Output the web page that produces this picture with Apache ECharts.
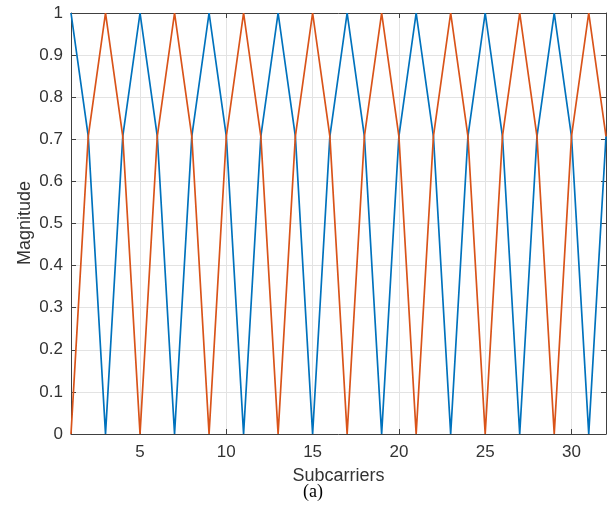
<!DOCTYPE html>
<html>
<head>
<meta charset="utf-8">
<script src="https://cdn.jsdelivr.net/npm/echarts@6/dist/echarts.min.js"></script>
<style>
html,body{margin:0;padding:0;background:#fff;}
#chart{width:614px;height:513px;}
</style>
</head>
<body>
<div id="chart"></div>
<script>
// Subcarrier indices 1..32
const subcarriers = [1,2,3,4,5,6,7,8,9,10,11,12,13,14,15,16,17,18,19,20,21,22,23,24,25,26,27,28,29,30,31,32];
// Magnitude of the two interleaved carriers at each subcarrier
const blueMag = [1,0.7071,0,0.7071,1,0.7071,0,0.7071,1,0.7071,0,0.7071,1,0.7071,0,0.7071,
                 1,0.7071,0,0.7071,1,0.7071,0,0.7071,1,0.7071,0,0.7071,1,0.7071,0,0.7071];
const orangeMag = [0,0.7071,1,0.7071,0,0.7071,1,0.7071,0,0.7071,1,0.7071,0,0.7071,1,0.7071,
                   0,0.7071,1,0.7071,0,0.7071,1,0.7071,0,0.7071,1,0.7071,0,0.7071,1,0.7071];
const xTicks = [5,10,15,20,25,30];

const axisColor = '#404040';
const textColor = '#333333';
const gridColor = '#e3e3e3';
const font = 'Liberation Sans, Arial, Helvetica, sans-serif';

const chart = echarts.init(document.getElementById('chart'));
const pairs = (ys) => subcarriers.map((x, i) => [x, ys[i]]);

const xBase = {
  type: 'value', min: 1, max: 32,
  axisLine: {show: true, onZero: false, lineStyle: {color: axisColor, width: 1}},
  axisTick: {show: true, inside: true, length: 5, customValues: xTicks, lineStyle: {color: axisColor}},
  axisLabel: {customValues: xTicks, color: textColor, fontSize: 17, fontFamily: font, margin: 10},
  splitLine: {show: false}
};
const yBase = {
  type: 'value', min: 0, max: 1, interval: 0.1,
  axisLine: {show: true, onZero: false, lineStyle: {color: axisColor, width: 1}},
  axisTick: {show: true, inside: true, length: 5, lineStyle: {color: axisColor}},
  axisLabel: {color: textColor, fontSize: 17, fontFamily: font, margin: 8},
  splitLine: {show: false}
};

chart.setOption({
  animation: false,
  backgroundColor: '#fff',
  grid: {left: 71, right: 8, top: 13, bottom: 79},
  xAxis: [
    Object.assign({}, xBase, {
      position: 'bottom',
      name: 'Subcarriers', nameLocation: 'middle', nameGap: 33,
      nameTextStyle: {color: textColor, fontSize: 18, fontFamily: font},
      splitLine: {show: true, lineStyle: {color: gridColor, width: 1}}
    }),
    Object.assign({}, xBase, {position: 'top', axisLabel: {show: false}})
  ],
  yAxis: [
    Object.assign({}, yBase, {
      position: 'left',
      splitLine: {show: true, lineStyle: {color: gridColor, width: 1}}
    }),
    Object.assign({}, yBase, {position: 'right', axisLabel: {show: false}})
  ],
  graphic: [
    {
      // y-axis title, rotated
      type: 'text', x: 25, y: 223, rotation: Math.PI / 2,
      style: {text: 'Magnitude', fill: textColor, font: '18px "Liberation Sans", Arial, sans-serif',
              align: 'center', verticalAlign: 'middle'}
    },
    {
      type: 'text', left: 303, top: 483,
      style: {text: '(a)', fill: '#000', font: '18px "Liberation Serif", "Times New Roman", serif'}
    }
  ],
  series: [
    {type: 'line', data: pairs(blueMag), symbol: 'none', z: 3,
     lineStyle: {color: '#0072BD', width: 1.7}},
    {type: 'line', data: pairs(orangeMag), symbol: 'none', z: 4,
     lineStyle: {color: '#D95319', width: 1.7}}
  ]
});
</script>
</body>
</html>
